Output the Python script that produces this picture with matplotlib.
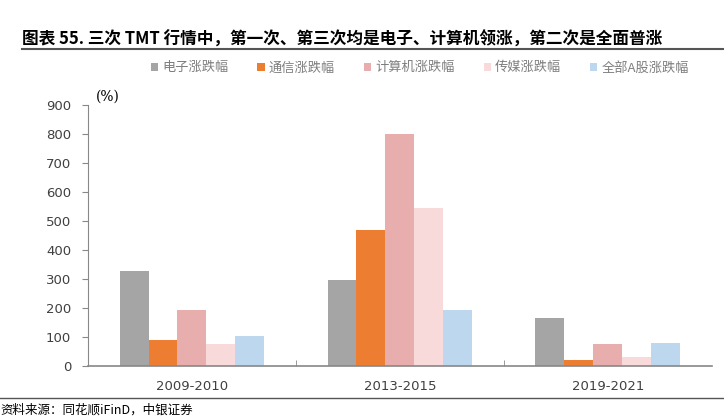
import matplotlib.pyplot as plt
import numpy as np

plt.rcParams['font.family'] = ['Noto Sans CJK SC', 'DejaVu Sans']

# data
periods = ['2009-2010', '2013-2015', '2019-2021']
series_names = ['电子涨跌幅', '通信涨跌幅', '计算机涨跌幅', '传媒涨跌幅', '全部A股涨跌幅']
electronics = [327, 297, 166]
telecom = [90, 469, 21]
computer = [193, 800, 76]
media = [76, 545, 31]
all_a = [103, 193, 79]
colors = ['#A5A5A5', '#ED7D31', '#E8ADAD', '#F8DADA', '#BDD7EE']

fig = plt.figure(figsize=(7.24, 4.19), dpi=100)
ax = fig.add_axes([0.1215, 0.1265, 0.8615, 0.6225])

x = np.arange(len(periods))
w = 0.139
allvals = [electronics, telecom, computer, media, all_a]
for i, vals in enumerate(allvals):
    ax.bar(x + (i - 2) * w, vals, w, color=colors[i], label=series_names[i])

ax.set_xlim(-0.5, 2.5)
ax.set_ylim(0, 900)
ax.set_yticks(range(0, 901, 100))
ax.set_xticks(x)
ax.set_xticklabels(periods)
ax.set_xticks([0.5, 1.5], minor=True)
ax.tick_params(axis='x', which='major', length=0, pad=10, labelsize=10, labelcolor='#404040')
ax.tick_params(axis='x', which='minor', length=4, direction='in', color='#888888')
ax.tick_params(axis='y', length=4, color='#888888', labelsize=10, labelcolor='#404040', pad=8)
for lbl in ax.get_xticklabels() + ax.get_yticklabels():
    lbl.set_family('DejaVu Sans')
    lbl.set_fontsize(9.5)
for s in ['top', 'right']:
    ax.spines[s].set_visible(False)
ax.spines['left'].set_color('#888888')
ax.spines['bottom'].set_color('#888888')
ax.spines['bottom'].set_linewidth(1.2)

ax.text(0.012, 1.005, '(%)', transform=ax.transAxes, fontsize=10, family='DejaVu Serif', va='bottom')

leg = fig.legend(loc='center', bbox_to_anchor=(0.58, 0.838), ncol=5, frameon=False,
                 handlelength=0.55, handleheight=0.55, handletextpad=0.3, columnspacing=2.2,
                 fontsize=9.5)
for t in leg.get_texts():
    t.set_color('#7F7F7F')

fig.text(0.03, 0.905, '图表 55. 三次 TMT 行情中，第一次、第三次均是电子、计算机领涨，第二次是全面普涨',
         fontsize=12, fontweight='bold', va='center')
fig.add_artist(plt.Line2D([0.03, 1.0], [0.883, 0.883], color='#555555', lw=1.5))
fig.add_artist(plt.Line2D([0.0, 1.0], [0.05, 0.05], color='#555555', lw=1))
fig.text(0.0, 0.022, '资料来源：同花顺iFinD，中银证券', fontsize=9, style='italic', va='center')

fig.savefig('out.png', dpi=100)
